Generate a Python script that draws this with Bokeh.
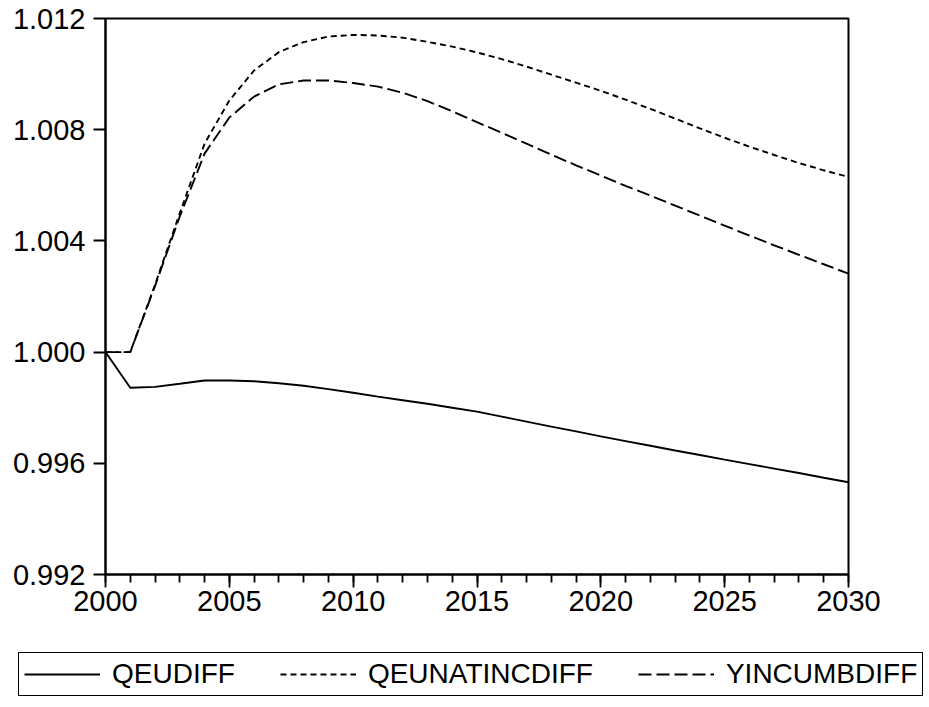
from bokeh.plotting import figure
from bokeh.models import (Range1d, SingleIntervalTicker, NumeralTickFormatter,
                          Legend, LegendItem)
from bokeh.embed import file_html
from bokeh.resources import INLINE

years = list(range(2000, 2031))
qeudiff = [1.0, 0.99872, 0.99875, 0.99886, 0.99898, 0.99898, 0.99895, 0.99888,
           0.99879, 0.99867, 0.99854, 0.9984, 0.99827, 0.99814, 0.998, 0.99786,
           0.99768, 0.9975, 0.99732, 0.99715, 0.99697, 0.9968, 0.99663, 0.99646,
           0.9963, 0.99613, 0.99597, 0.99581, 0.99565, 0.99548, 0.99532]
qeunatincdiff = [1.0, 1.0, 1.00242, 1.005, 1.0075, 1.00905, 1.01013, 1.01079,
                 1.01115, 1.01135, 1.01141, 1.01139, 1.01131, 1.01116, 1.01099,
                 1.01078, 1.01054, 1.01027, 1.00998, 1.00969, 1.0094, 1.00908,
                 1.00875, 1.0084, 1.00805, 1.00771, 1.00739, 1.00709, 1.0068,
                 1.00654, 1.0063]
yincumbdiff = [1.0, 1.0, 1.00238, 1.00488, 1.00714, 1.00844, 1.00919, 1.00963,
               1.00977, 1.00977, 1.00968, 1.00955, 1.00933, 1.00903, 1.00866,
               1.00827, 1.00789, 1.0075, 1.0071, 1.00672, 1.00635, 1.00598,
               1.00563, 1.00527, 1.00491, 1.00455, 1.00419, 1.00384, 1.0035,
               1.00316, 1.00282]
series_names = ["QEUDIFF", "QEUNATINCDIFF", "YINCUMBDIFF"]
series_vals = [qeudiff, qeunatincdiff, yincumbdiff]
dashes = ["solid", "6 4", "13 5"]

FONT = "Liberation Sans"

p = figure(width=925, height=630, output_backend="svg", toolbar_location=None,
           x_range=Range1d(2000, 2030), y_range=Range1d(0.992, 1.012),
           min_border_left=105, min_border_right=77, min_border_top=18,
           min_border_bottom=56)
p.xgrid.visible = False
p.ygrid.visible = False
p.outline_line_color = "black"
p.outline_line_width = 2
p.outline_line_alpha = 1
p.background_fill_color = "white"
p.border_fill_color = "white"

for vals, dash in zip(series_vals, dashes):
    p.line(years, vals, line_color="black", line_width=1.9, line_dash=dash)

xa = p.xaxis[0]
xa.ticker = SingleIntervalTicker(interval=5, num_minor_ticks=5)
xa.major_tick_out = 13
xa.major_tick_in = 0
xa.minor_tick_out = 8
xa.minor_tick_in = 0
xa.major_label_standoff = 3
xa.minor_tick_line_color = "black"

ya = p.yaxis[0]
ya.ticker = SingleIntervalTicker(interval=0.004, num_minor_ticks=0)
ya.formatter = NumeralTickFormatter(format="0.000")
ya.major_tick_out = 12
ya.major_tick_in = 0
ya.minor_tick_line_color = None
ya.major_label_standoff = 8

for ax in (xa, ya):
    ax.axis_line_color = "black"
    ax.axis_line_width = 2
    ax.major_tick_line_color = "black"
    ax.major_tick_line_width = 1.8
    ax.minor_tick_line_width = 1.8
    ax.major_label_text_font = FONT
    ax.major_label_text_font_size = "29px"
    ax.major_label_text_color = "black"

# legend strip below the chart (separate root so its frame spans the full width)
lg = figure(width=925, height=70, output_backend="svg", toolbar_location=None,
            min_border=0, min_border_left=0, min_border_right=0,
            min_border_top=0, min_border_bottom=0,
            x_range=Range1d(0, 1), y_range=Range1d(0, 1))
lg.axis.visible = False
lg.xgrid.visible = False
lg.ygrid.visible = False
lg.outline_line_color = None
lg.background_fill_color = "white"
lg.border_fill_color = "white"
items = []
for name, vals, dash in zip(series_names, series_vals, dashes):
    # same series; lie outside this strip's ranges, so only the legend glyph shows
    r = lg.line(years, vals, line_color="black", line_width=1.9, line_dash=dash)
    items.append(LegendItem(label=name, renderers=[r]))

legend = Legend(items=items, orientation="horizontal", location=(18, 4), margin=0,
                padding=5, spacing=45, label_standoff=12, glyph_width=76,
                glyph_height=20, label_text_font=FONT, label_text_font_size="28px",
                label_text_color="black", border_line_color="black",
                border_line_width=1.2, border_line_alpha=1,
                background_fill_color="white", background_fill_alpha=1)
lg.add_layout(legend)

open("out.html", "w").write(file_html([p, lg], INLINE))
